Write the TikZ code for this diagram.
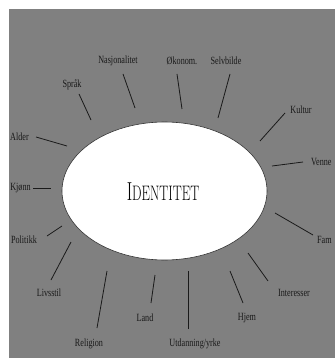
\documentclass[tikz,border=0pt]{standalone}
\usepackage{fontspec}
\setmainfont{Liberation Serif}
\newfontfamily\lmfont{Latin Modern Roman}
\usetikzlibrary{shapes.geometric}
\definecolor{bggray}{HTML}{808080}
\definecolor{linecol}{HTML}{1A1A1A}
\begin{document}
\begin{tikzpicture}[x=1pt,y=-1pt,
  lbl/.style={inner sep=0pt,text=black!90,font=\fontsize{11}{11}\selectfont},
  conn/.style={draw=linecol,line width=0.8pt}]
\useasboundingbox (0,0) rectangle (335,358);
\fill[bggray] (9,9) rectangle (335,358);
\node[draw=black!80,line width=0.6pt,fill=white,ellipse,minimum width=205pt,minimum height=138pt,inner sep=0pt] (id) at (164.5,191) {};
\node (idt) at (163,192) {\scalebox{0.64}[1]{\lmfont{\fontsize{26}{26}\selectfont I}{\fontsize{21}{21}\selectfont DENTITET}}};
\newcommand{\lab}[3]{\node[lbl] (#1) at (#2) {\scalebox{0.74}[1]{#3}};}
\lab{nas}{118,61}{Nasjonalitet}
\lab{oko}{182,61}{Økonom.}
\lab{sel}{226,61}{Selvbilde}
\lab{spr}{72,85}{Språk}
\lab{kul}{301,110}{Kultur}
\lab{ald}{19.5,137}{Alder}
\node[lbl,anchor=west] (ven) at (311,162) {\scalebox{0.74}[1]{Venne}};
\lab{kjo}{20.5,188}{Kjønn}
\node[lbl,anchor=west] (fam) at (317,240) {\scalebox{0.74}[1]{Fam}};
\lab{pol}{24,240}{Politikk}
\lab{liv}{49,293}{Livsstil}
\lab{int}{294,293}{Interesser}
\lab{lan}{145,318}{Land}
\lab{hje}{247,318}{Hjem}
\lab{rel}{89,344}{Religion}
\lab{utd}{195,344}{Utdanning/yrke}
% connector end points
\foreach \n/\a/\b in {nas/{123,74}/{135,108}, oko/{177,74}/{182,109}, sel/{230,74}/{218,118},
  spr/{79,94}/{91,120}, kul/{285,113}/{260,141}, ald/{36,137}/{67,146},
  ven/{303,162}/{272,166}, kjo/{33,188}/{51,188}, pol/{47,236}/{62,226},
  fam/{313,235}/{275,213}, liv/{51,280}/{71,242}, rel/{97,328}/{107,271},
  lan/{151,303}/{155,275}, utd/{188,329}/{188,271}, hje/{243,303}/{230,271},
  int/{268,281}/{248,253}}{
  \coordinate (\n-a) at (\a);
  \coordinate (\n-b) at (\b);
  \draw[conn] (\n-a) -- (\n-b);
}
\end{tikzpicture}
\end{document}
